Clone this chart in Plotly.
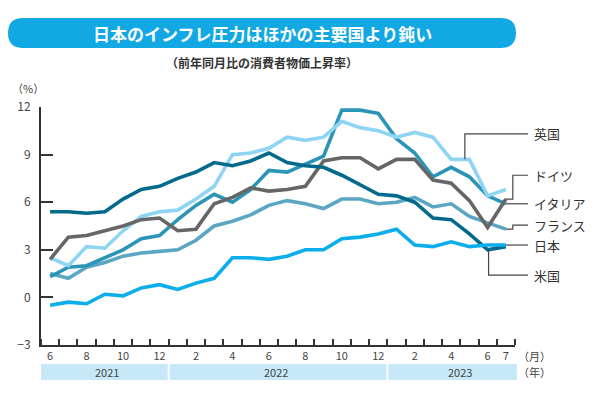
import plotly.graph_objects as go

months = list(range(26))  # 2021-06 .. 2023-07
month_labels = ["6", "8", "10", "12", "2", "4", "6", "8", "10", "12", "2", "4", "6", "7"]
month_label_pos = [0, 2, 4, 6, 8, 10, 12, 14, 16, 18, 20, 22, 24, 25]
years = ["2021", "2022", "2023"]

us = [5.4, 5.4, 5.3, 5.4, 6.2, 6.8, 7.0, 7.5, 7.9, 8.5, 8.3, 8.6, 9.1, 8.5, 8.3, 8.2,
      7.7, 7.1, 6.5, 6.4, 6.0, 5.0, 4.9, 4.0, 3.0, 3.2]
uk = [2.5, 2.0, 3.2, 3.1, 4.2, 5.1, 5.4, 5.5, 6.2, 7.0, 9.0, 9.1, 9.4, 10.1, 9.9, 10.1,
      11.1, 10.7, 10.5, 10.1, 10.4, 10.1, 8.7, 8.7, 6.4, 6.8]
germany = [2.4, 3.8, 3.9, 4.2, 4.5, 4.9, 5.0, 4.2, 4.3, 5.9, 6.3, 6.9, 6.7, 6.8, 7.0, 8.6,
           8.8, 8.8, 8.1, 8.7, 8.7, 7.4, 7.2, 6.1, 4.4, 6.2]
italy = [1.3, 1.9, 2.0, 2.5, 3.0, 3.7, 3.9, 4.9, 5.8, 6.5, 6.0, 6.8, 8.0, 7.9, 8.4, 8.9,
         11.8, 11.8, 11.6, 10.0, 9.1, 7.6, 8.2, 7.6, 6.4, 5.9]
france = [1.5, 1.2, 1.9, 2.2, 2.6, 2.8, 2.9, 3.0, 3.6, 4.5, 4.8, 5.2, 5.8, 6.1, 5.9, 5.6,
          6.2, 6.2, 5.9, 6.0, 6.3, 5.7, 5.9, 5.1, 4.7, 4.3]
japan = [-0.5, -0.3, -0.4, 0.2, 0.1, 0.6, 0.8, 0.5, 0.9, 1.2, 2.5, 2.5, 2.4, 2.6, 3.0, 3.0,
         3.7, 3.8, 4.0, 4.3, 3.3, 3.2, 3.5, 3.2, 3.3, 3.3]

FONT = "Noto Sans CJK JP"
W, H = 600, 400
L, R, T, B = 41, 515, 107, 345
XMIN, XMAX = -0.5, 25.5
YMIN, YMAX = -3, 12


def px(x):
    return (x - L) / (R - L)


def py(y):
    return (B - y) / (B - T)


def dx(v):
    return (v - XMIN) / (XMAX - XMIN)


def dy(v):
    return (v - YMIN) / (YMAX - YMIN)


fig = go.Figure()
series = [
    ("フランス", france, "#5ba7c3"),
    ("イタリア", italy, "#2b95b8"),
    ("英国", uk, "#8ed5f4"),
    ("ドイツ", germany, "#666666"),
    ("米国", us, "#046a8c"),
    ("日本", japan, "#0aaeeb"),
]
for name, vals, col in series:
    fig.add_trace(go.Scatter(x=months, y=vals, mode="lines", name=name,
                             line=dict(color=col, width=3.6), showlegend=False,
                             hoverinfo="skip"))

shapes = []
annotations = []

# title bar (rounded)
x0, x1, y0, y1, r = 8, 516, 18, 48, 15
path = (f"M {px(x0 + r)} {py(y0)} L {px(x1 - r)} {py(y0)} "
        f"Q {px(x1)} {py(y0)} {px(x1)} {py(y0 + r)} "
        f"Q {px(x1)} {py(y1)} {px(x1 - r)} {py(y1)} "
        f"L {px(x0 + r)} {py(y1)} "
        f"Q {px(x0)} {py(y1)} {px(x0)} {py(y1 - r)} "
        f"Q {px(x0)} {py(y0)} {px(x0 + r)} {py(y0)} Z")
shapes.append(dict(type="path", xref="paper", yref="paper", path=path,
                   fillcolor="#12a8e4", line=dict(width=0), layer="below"))
annotations.append(dict(xref="paper", yref="paper", x=px(262), y=py(33),
                        text="<b>日本のインフレ圧力はほかの主要国より鈍い</b>",
                        showarrow=False, font=dict(family=FONT, size=17, color="white"),
                        xanchor="center", yanchor="middle"))
annotations.append(dict(xref="paper", yref="paper", x=px(262), y=py(62),
                        text="<b>（前年同月比の消費者物価上昇率）</b>",
                        showarrow=False, font=dict(family=FONT, size=12, color="#333333"),
                        xanchor="center", yanchor="middle"))
annotations.append(dict(xref="paper", yref="paper", x=px(28), y=py(88),
                        text="（%）", showarrow=False,
                        font=dict(family=FONT, size=11, color="#444444"),
                        xanchor="center", yanchor="middle"))
annotations.append(dict(xref="paper", yref="paper", x=px(516), y=py(356),
                        text="（月）", showarrow=False,
                        font=dict(family=FONT, size=11, color="#444444"),
                        xanchor="left", yanchor="middle"))
annotations.append(dict(xref="paper", yref="paper", x=px(516), y=py(372),
                        text="（年）", showarrow=False,
                        font=dict(family=FONT, size=11, color="#444444"),
                        xanchor="left", yanchor="middle"))

# year bands
bands = [(-0.5, 6.5, 3.1), (6.5, 18.5, 12.4), (18.5, 25.6, 22.5)]
for (a, b, c), yr in zip(bands, years):
    shapes.append(dict(type="rect", xref="paper", yref="paper",
                       x0=dx(a) + (0.002 if a > 0 else 0), x1=dx(b) - (0.002 if b < 25 else 0),
                       y0=py(380), y1=py(364), fillcolor="#c6e8f8", line=dict(width=0)))
    annotations.append(dict(xref="paper", yref="paper", x=dx(c), y=py(372), text=yr,
                            showarrow=False, font=dict(family=FONT, size=11, color="#444444"),
                            xanchor="center", yanchor="middle"))

# leader lines and labels
LBX = px(528)
LTX = px(532)
lc = dict(color="#444444", width=1.2)


def leader(points):
    p = "M " + " L ".join(f"{a} {b}" for a, b in points)
    shapes.append(dict(type="path", xref="paper", yref="paper", path=p, line=lc))


uk_lab = 10.3
de_lab = 7.7
fr_lab = 4.55
us_lab = 1.4
leader([(dx(22.75), dy(uk[22])), (dx(22.75), dy(uk_lab)), (LBX, dy(uk_lab))])
leader([(dx(25), dy(germany[25])), (dx(25.38), dy(germany[25])), (dx(25.38), dy(de_lab)), (LBX, dy(de_lab))])
leader([(dx(25), dy(italy[25])), (LBX, dy(italy[25]))])
leader([(dx(25), dy(france[25])), (dx(25.38), dy(france[25])), (dx(25.38), dy(fr_lab)), (LBX, dy(fr_lab))])
leader([(dx(25), dy(japan[25])), (LBX, dy(japan[25]))])
leader([(dx(24.05), dy(us[24])), (dx(24.05), dy(us_lab)), (LBX, dy(us_lab))])

for name, yv in [("英国", uk_lab), ("ドイツ", de_lab), ("イタリア", italy[25]),
                 ("フランス", fr_lab), ("日本", japan[25]), ("米国", us_lab)]:
    annotations.append(dict(xref="paper", yref="paper", x=LTX, y=dy(yv), text=name,
                            showarrow=False, font=dict(family=FONT, size=13, color="#333333"),
                            xanchor="left", yanchor="middle"))

fig.update_layout(
    width=W, height=H,
    margin=dict(l=L, r=W - R, t=T, b=H - B, pad=0),
    paper_bgcolor="white", plot_bgcolor="white",
    shapes=shapes, annotations=annotations,
    font=dict(family=FONT, color="#444444"),
    xaxis=dict(range=[XMIN, XMAX], tickvals=month_label_pos, ticktext=month_labels,
               ticks="", showgrid=False, zeroline=False, showline=True,
               linecolor="#333333", linewidth=2,
               tickfont=dict(family=FONT, size=11, color="#444444"),
               minor=dict(tick0=-0.5, dtick=1, ticks="inside", ticklen=6,
                          tickcolor="#333333", tickwidth=1.5, showgrid=False),
               fixedrange=True),
    yaxis=dict(range=[YMIN, YMAX], tickvals=[-3, 0, 3, 6, 9, 12],
               ticks="inside", ticklen=12, tickwidth=1.5, tickcolor="#333333",
               showgrid=False, zeroline=False, showline=True,
               linecolor="#333333", linewidth=2,
               tickfont=dict(family=FONT, size=12, color="#444444"),
               ticklabelstandoff=6, fixedrange=True),
)

fig.write_html("out.html")
